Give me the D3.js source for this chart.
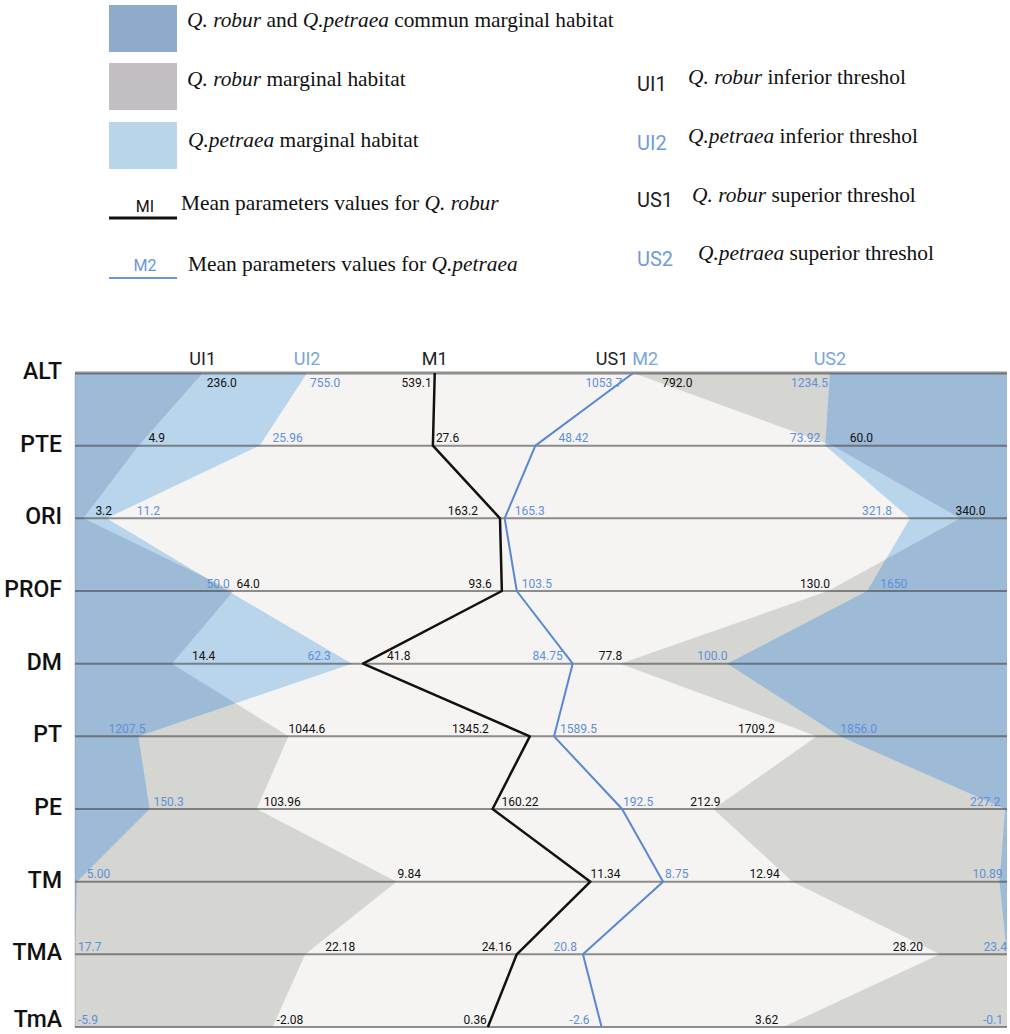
<!DOCTYPE html>
<html>
<head>
<meta charset="utf-8">
<script src="https://cdn.jsdelivr.net/npm/d3@7"></script>
<style>
  body { margin: 0; background: #fff; }
  svg { display: block; }
  text { white-space: pre; }
</style>
</head>
<body>
<svg id="chart" width="1010" height="1034"></svg>
<script>
// ---- Data ---------------------------------------------------------------
const rows = ["ALT", "PTE", "ORI", "PROF", "DM", "PT", "PE", "TM", "TMA", "TmA"];

// Placement of each threshold / mean along its variable's axis
// (0 = left end of the row, 100 = right end of the row)
const ui1Rel = [13.7, 6.8, 0.9, 17.0, 10.4, 22.9, 19.5, 34.5, 24.7, 21.2];
const ui2Rel = [24.9, 19.8, 3.4, 16.4, 29.7, 6.8, 8.0, 0.2, 0, 0];
const m1Rel  = [38.6, 38.4, 45.6, 45.8, 30.9, 48.8, 44.8, 55.3, 47.4, 44.3];
const m2Rel  = [59.9, 49.4, 46.1, 47.4, 53.4, 51.4, 58.7, 63.1, 54.5, 56.5];
const us1Rel = [59.9, 81.3, 95.0, 80.8, 58.5, 79.6, 68.5, 77.0, 92.8, 76.0];
const us2Rel = [81.0, 80.5, 89.6, 85.0, 70.0, 82.1, 99.8, 99.2, 100, 100];

// Printed parameter values
const ui1Text = ["236.0", "4.9", "3.2", "64.0", "14.4", "1044.6", "103.96", "9.84", "22.18", "-2.08"];
const ui2Text = ["755.0", "25.96", "11.2", "50.0", "62.3", "1207.5", "150.3", "5.00", "17.7", "-5.9"];
const m1Text  = ["539.1", "27.6", "163.2", "93.6", "41.8", "1345.2", "160.22", "11.34", "24.16", "0.36"];
const m2Text  = ["1053.7", "48.42", "165.3", "103.5", "84.75", "1589.5", "192.5", "8.75", "20.8", "-2.6"];
const us1Text = ["792.0", "60.0", "340.0", "130.0", "77.8", "1709.2", "212.9", "12.94", "28.20", "3.62"];
const us2Text = ["1234.5", "73.92", "321.8", "1650", "100.0", "1856.0", "227.2", "10.89", "23.4", "-0.1"];

// ---- Layout & style ------------------------------------------------------
const X0 = 75, X1 = 1007, Y0 = 373, Y1 = 1027;
const COL = {
  plotBg: "#f5f4f2",
  robur: "#d5d5d1",
  petraea: "#b9d5eb",
  common: "#9dbad6",
  blueText: "#5f8fd8",
  m2: "#5a87d2",
  black: "#111"
};

// value label anchoring relative to its vertex: [anchor, dx]
const S = "start", E = "end";
const ui1Lab = [[S,4],[S,10],[S,12],[S,3],[S,20],[S,0],[S,7],[S,1],[S,20],[S,4]];
const ui2Lab = [[S,3],[S,13],[S,30],[E,2],[E,-21],[E,7],[S,4],[S,10],[S,3],[S,3]];
const m1Lab  = [[E,-3],[S,3],[E,-22],[E,-10],[S,24],[E,-41],[S,9],[S,0],[E,-5],[E,-1]];
const m2Lab  = [[E,-11],[S,23],[S,10],[S,5],[E,-10],[S,6],[S,1],[S,2],[E,-6],[E,-12]];
const us1Lab = [[S,29],[S,17],[S,-5],[E,2],[E,2],[E,-42],[E,7],[E,-13],[E,-17],[E,-5]];
const us2Lab = [[E,-2],[E,-5],[E,-18],[S,13],[E,0],[S,0],[E,-5],[E,3],[E,0],[E,-4]];

const svg = d3.select("#chart");
const x = d3.scaleLinear().domain([0, 100]).range([X0, X1]);
const y = d3.scalePoint().domain(rows).range([Y0, Y1]);
const last = rows[rows.length - 1];

const poly = d3.line().x(d => x(d[0])).y(d => y(d[1]));
const edgePoly = (rel, edge) =>
  poly([[edge, rows[0]], ...rel.map((v, i) => [v, rows[i]]), [edge, last]]) + "Z";

// ---- Plot -----------------------------------------------------------------
const plot = svg.append("g");
plot.append("rect")
  .attr("x", x(0)).attr("y", y(rows[0]))
  .attr("width", x(100) - x(0)).attr("height", y(last) - y(rows[0]))
  .attr("fill", COL.plotBg);

const defs = svg.append("defs");
defs.append("clipPath").attr("id", "roburLow").append("path").attr("d", edgePoly(ui1Rel, 0));
defs.append("clipPath").attr("id", "roburHigh").append("path").attr("d", edgePoly(us1Rel, 100));

// marginal habitat areas: robur alone, petraea alone, and their overlap
[[ui1Rel, ui2Rel, 0, "roburLow"], [us1Rel, us2Rel, 100, "roburHigh"]].forEach(([rob, pet, edge, clip]) => {
  plot.append("path").attr("d", edgePoly(rob, edge)).attr("fill", COL.robur);
  plot.append("path").attr("d", edgePoly(pet, edge)).attr("fill", COL.petraea);
  plot.append("path").attr("d", edgePoly(pet, edge)).attr("fill", COL.common)
    .attr("clip-path", `url(#${clip})`);
});

// row rules
plot.selectAll("line.rule").data(rows).join("line")
  .attr("class", "rule")
  .attr("x1", x(0)).attr("x2", x(100))
  .attr("y1", d => y(d)).attr("y2", d => y(d))
  .attr("stroke", "rgba(70,70,70,0.6)")
  .attr("stroke-width", (d, i) => i === 0 ? 3 : 2);
plot.append("line")
  .attr("x1", x(0)).attr("x2", x(0)).attr("y1", y(rows[0])).attr("y2", y(last))
  .attr("stroke", "rgba(120,120,120,0.35)").attr("stroke-width", 1);

// mean profiles
const profile = d3.line().x(d => x(d[0])).y(d => y(d[1]));
plot.append("path")
  .attr("d", profile(m2Rel.map((v, i) => [v, rows[i]])))
  .attr("fill", "none").attr("stroke", COL.m2).attr("stroke-width", 2)
  .attr("stroke-linejoin", "round");
plot.append("path")
  .attr("d", profile(m1Rel.map((v, i) => [v, rows[i]])))
  .attr("fill", "none").attr("stroke", COL.black).attr("stroke-width", 2.5)
  .attr("stroke-linejoin", "round");

// value labels
function valueLabels(rel, texts, place, color) {
  plot.append("g").selectAll("text").data(rows).join("text")
    .attr("x", (d, i) => x(rel[i]) + place[i][1])
    .attr("y", (d, i) => i === 0 ? y(d) + 14 : y(d) - 3.5)
    .attr("text-anchor", (d, i) => place[i][0])
    .attr("font-family", "Roboto, 'Liberation Sans', sans-serif")
    .attr("font-size", 12)
    .attr("fill", color)
    .text((d, i) => texts[i]);
}
valueLabels(ui1Rel, ui1Text, ui1Lab, COL.black);
valueLabels(ui2Rel, ui2Text, ui2Lab, COL.blueText);
valueLabels(m1Rel, m1Text, m1Lab, COL.black);
valueLabels(m2Rel, m2Text, m2Lab, COL.blueText);
valueLabels(us1Rel, us1Text, us1Lab, COL.black);
valueLabels(us2Rel, us2Text, us2Lab, COL.blueText);

// series headers above the first row
const headers = [
  { t: "UI1", v: ui1Rel[0], a: "middle", c: "#222" },
  { t: "UI2", v: ui2Rel[0], a: "middle", c: "#7aa4de" },
  { t: "M1",  v: m1Rel[0],  a: "middle", c: "#222" },
  { t: "US1", v: us1Rel[0], a: "end",    c: "#222", dx: -5 },
  { t: "M2",  v: m2Rel[0],  a: "start",  c: "#7aa4de", dx: -1 },
  { t: "US2", v: us2Rel[0], a: "middle", c: "#7aa4de" }
];
svg.append("g").selectAll("text").data(headers).join("text")
  .attr("x", d => x(d.v) + (d.dx || 0))
  .attr("y", y(rows[0]) - 8)
  .attr("text-anchor", d => d.a)
  .attr("font-family", "Roboto, sans-serif")
  .attr("font-size", 18)
  .attr("fill", d => d.c)
  .text(d => d.t);

// row names (the last one is kept inside the canvas)
svg.append("g").selectAll("text").data(rows).join("text")
  .attr("x", 62)
  .attr("y", d => Math.min(y(d) + 6, 1027))
  .attr("text-anchor", "end")
  .attr("font-family", "Roboto, sans-serif")
  .attr("font-weight", 500)
  .attr("font-size", 23)
  .attr("fill", "#111")
  .text(d => d);

// ---- Legend -----------------------------------------------------------------
const legend = svg.append("g");
const serif = "'Liberation Serif', 'Times New Roman', serif";
const LF = 21.4;
function rich(sel, parts) {
  parts.forEach(p => sel.append("tspan")
    .attr("font-style", p[1] ? "italic" : null)
    .text(p[0]));
}
const swatches = [
  { c: "#8eacca", y: 5,   ty: 27,  tx: 187, parts: [["Q. robur", 1], [" and ", 0], ["Q.petraea", 1], [" commun marginal habitat", 0]] },
  { c: "#c1bfc1", y: 63,  ty: 86,  tx: 187, parts: [["Q. robur", 1], [" marginal habitat", 0]] },
  { c: "#b9d5ea", y: 122, ty: 147, tx: 188, parts: [["Q.petraea", 1], [" marginal habitat", 0]] }
];
swatches.forEach(s => {
  legend.append("rect").attr("x", 109).attr("y", s.y).attr("width", 68).attr("height", 47).attr("fill", s.c);
  const t = legend.append("text").attr("x", s.tx).attr("y", s.ty)
    .attr("font-family", serif).attr("font-size", LF).attr("fill", "#111");
  rich(t, s.parts);
});

const lineKeys = [
  { k: "MI", c: "#111", lc: "#111", w: 3, ly: 218, ky: 212, ty: 210, tx: 181, parts: [["Mean parameters values for ", 0], ["Q. robur", 1]] },
  { k: "M2", c: "#6a95dc", lc: "#6a95dc", w: 2, ly: 278, ky: 271, ty: 271, tx: 188, parts: [["Mean parameters values for ", 0], ["Q.petraea", 1]] }
];
lineKeys.forEach(k => {
  legend.append("line").attr("x1", 109).attr("x2", 177).attr("y1", k.ly).attr("y2", k.ly)
    .attr("stroke", k.lc).attr("stroke-width", k.w);
  legend.append("text").attr("x", 145).attr("y", k.ky).attr("text-anchor", "middle")
    .attr("font-family", "Roboto, sans-serif").attr("font-size", 16).attr("fill", k.c).text(k.k);
  const t = legend.append("text").attr("x", k.tx).attr("y", k.ty)
    .attr("font-family", serif).attr("font-size", LF).attr("fill", "#111");
  rich(t, k.parts);
});

const codeKeys = [
  { k: "UI1", c: "#222",    ky: 91,  tx: 688, ty: 84,  parts: [["Q. robur", 1], [" inferior threshol", 0]] },
  { k: "UI2", c: "#6f9bdc", ky: 150, tx: 688, ty: 143, parts: [["Q.petraea", 1], [" inferior threshol", 0]] },
  { k: "US1", c: "#222",    ky: 207, tx: 692, ty: 202, parts: [["Q. robur", 1], [" superior threshol", 0]] },
  { k: "US2", c: "#6f9bdc", ky: 266, tx: 698, ty: 260, parts: [["Q.petraea", 1], [" superior threshol", 0]] }
];
codeKeys.forEach(k => {
  legend.append("text").attr("x", 637).attr("y", k.ky)
    .attr("font-family", "Roboto, sans-serif").attr("font-size", 20).attr("fill", k.c).text(k.k);
  const t = legend.append("text").attr("x", k.tx).attr("y", k.ty)
    .attr("font-family", serif).attr("font-size", LF).attr("fill", "#111");
  rich(t, k.parts);
});
</script>
</body>
</html>
